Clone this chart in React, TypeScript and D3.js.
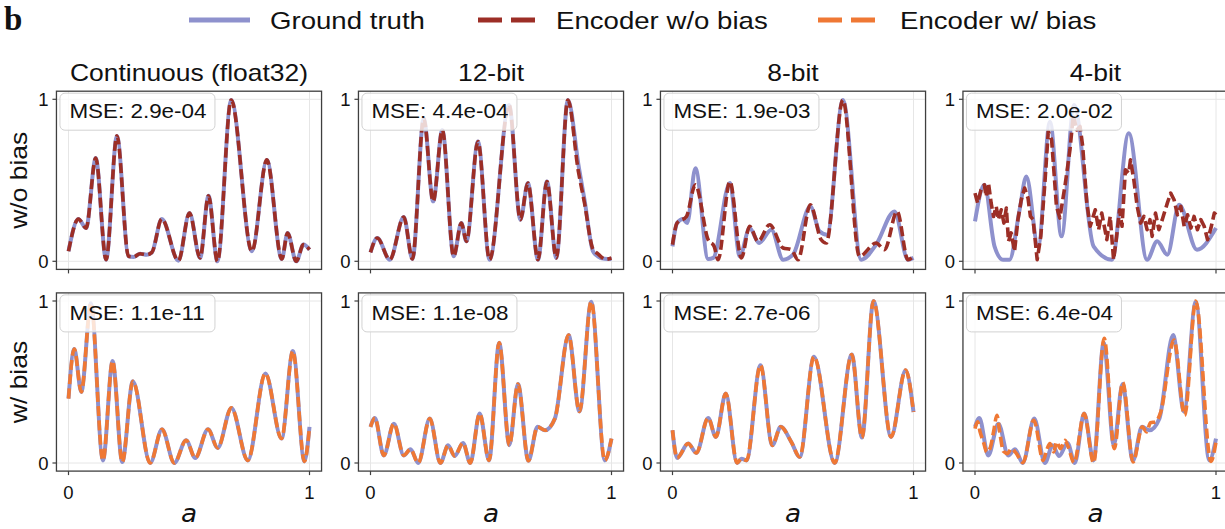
import React from 'react';
import * as d3 from 'd3';

type Pt = [number, number];

// ---------- data ----------
const columnTitles = ['Continuous (float32)', '12-bit', '8-bit', '4-bit'];
const rowLabels = ['w/o bias', 'w/ bias'];
const mseRow1 = ['2.9e-04', '4.4e-04', '1.9e-03', '2.0e-02'];
const mseRow2 = ['1.1e-11', '1.1e-08', '2.7e-06', '6.4e-04'];
const legendLabels = ['Ground truth', 'Encoder w/o bias', 'Encoder w/ bias'];
const tickValues = [0, 1];
const xLabel = 'a';
const panelLetter = 'b';

// Row 1 (w/o bias)
const gtR1C1: Pt[] = [
  [0, 0.062], [0.041, 0.261], [0.073, 0.205], [0.113, 0.637], [0.156, 0.01], [0.201, 0.774],
  [0.249, 0.031], [0.27, 0.027], [0.297, 0.047], [0.325, 0.041], [0.346, 0.055], [0.387, 0.261],
  [0.456, 0.004], [0.502, 0.298], [0.546, 0.021], [0.581, 0.405], [0.618, 0.0], [0.675, 0.996],
  [0.761, 0.062], [0.823, 0.626], [0.885, 0.014], [0.909, 0.175], [0.945, 0.0], [0.975, 0.103],
  [1.0, 0.072],
];
const encR1C1: Pt[] = gtR1C1;

const gtR1C2: Pt[] = [
  [0, 0.055], [0.028, 0.144], [0.08, 0.01], [0.138, 0.273], [0.174, 0.014], [0.221, 0.883],
  [0.26, 0.37], [0.298, 0.811], [0.345, 0.031], [0.377, 0.236], [0.398, 0.123], [0.446, 0.739],
  [0.494, 0.01], [0.575, 0.965], [0.622, 0.257], [0.653, 0.483], [0.695, 0.01], [0.732, 0.493],
  [0.771, 0.021], [0.819, 0.996], [0.865, 0.575], [0.888, 0.38], [0.923, 0.062], [0.943, 0.031],
  [0.971, 0.016], [1.0, 0.014],
];
const encR1C2: Pt[] = [
  [0, 0.055], [0.028, 0.144], [0.08, 0.01], [0.138, 0.273], [0.174, 0.014], [0.221, 0.883],
  [0.26, 0.37], [0.298, 0.811], [0.345, 0.031], [0.377, 0.236], [0.398, 0.123], [0.446, 0.739],
  [0.494, 0.01], [0.575, 0.965], [0.622, 0.257], [0.653, 0.483], [0.695, 0.01], [0.732, 0.493],
  [0.771, 0.021], [0.819, 0.996], [0.862, 0.56], [0.888, 0.36], [0.923, 0.075], [0.945, 0.045],
  [0.975, 0.012], [1.0, 0.02],
];

const gtR1C3: Pt[] = [
  [0, 0.092], [0.019, 0.236], [0.044, 0.261], [0.061, 0.236], [0.095, 0.575], [0.148, 0.014],
  [0.169, 0.021], [0.238, 0.483], [0.279, 0.031], [0.32, 0.205], [0.359, 0.113], [0.41, 0.195],
  [0.459, 0.01], [0.5, 0.041], [0.572, 0.339], [0.61, 0.185], [0.641, 0.164], [0.707, 0.996],
  [0.783, 0.01], [0.845, 0.103], [0.921, 0.308], [0.977, 0.01], [1.0, 0.021],
];
const encR1C3: Pt[] = [
  [0, 0.103], [0.019, 0.236], [0.058, 0.277], [0.095, 0.472], [0.148, 0.133], [0.173, 0.092],
  [0.189, 0.01], [0.238, 0.493], [0.286, 0.021], [0.32, 0.216], [0.355, 0.123], [0.403, 0.226],
  [0.459, 0.082], [0.493, 0.072], [0.521, 0.01], [0.572, 0.349], [0.617, 0.133], [0.638, 0.113],
  [0.707, 0.996], [0.776, 0.031], [0.845, 0.113], [0.88, 0.072], [0.932, 0.308], [0.977, 0.01],
  [1.0, 0.031],
];

const gtR1C4: Pt[] = [
  [0, 0.246], [0.039, 0.472], [0.081, 0.092], [0.116, 0.01], [0.143, 0.01], [0.185, 0.318],
  [0.213, 0.524], [0.262, 0.092], [0.311, 0.862], [0.359, 0.154], [0.411, 0.965], [0.492, 0.092],
  [0.568, 0.01], [0.638, 0.791], [0.714, 0.01], [0.756, 0.123], [0.798, 0.041], [0.847, 0.349],
  [0.921, 0.072], [1.0, 0.205],
];
const encR1C4: Pt[] = [
  [0, 0.421], [0.011, 0.359], [0.025, 0.441], [0.039, 0.472], [0.046, 0.4], [0.056, 0.483],
  [0.067, 0.359], [0.077, 0.277], [0.088, 0.339], [0.097, 0.257], [0.109, 0.318], [0.12, 0.236],
  [0.13, 0.329], [0.139, 0.123], [0.15, 0.175], [0.164, 0.062], [0.178, 0.257], [0.192, 0.38],
  [0.206, 0.452], [0.22, 0.39], [0.23, 0.277], [0.241, 0.257], [0.258, 0.01], [0.273, 0.154],
  [0.29, 0.483], [0.304, 0.801], [0.318, 0.749], [0.338, 0.339], [0.352, 0.267], [0.373, 0.462],
  [0.394, 0.688], [0.408, 0.903], [0.422, 0.811], [0.436, 0.832], [0.447, 0.708], [0.464, 0.359],
  [0.478, 0.216], [0.499, 0.318], [0.513, 0.195], [0.526, 0.298], [0.547, 0.133], [0.561, 0.277],
  [0.575, 0.01], [0.586, 0.133], [0.6, 0.318], [0.61, 0.216], [0.624, 0.565], [0.638, 0.544],
  [0.645, 0.626], [0.659, 0.503], [0.673, 0.339], [0.687, 0.236], [0.701, 0.277], [0.714, 0.195],
  [0.726, 0.257], [0.735, 0.154], [0.749, 0.298], [0.763, 0.195], [0.777, 0.257], [0.798, 0.359],
  [0.812, 0.421], [0.826, 0.38], [0.84, 0.287], [0.854, 0.339], [0.868, 0.216], [0.882, 0.287],
  [0.896, 0.205], [0.909, 0.277], [0.923, 0.195], [0.937, 0.257], [0.951, 0.216], [0.965, 0.133],
  [0.979, 0.205], [0.993, 0.298], [1.0, 0.287],
];

// Row 2 (w/ bias)
const gtR2C1: Pt[] = [
  [0, 0.398], [0.024, 0.703], [0.053, 0.439], [0.093, 0.986], [0.143, 0.016], [0.183, 0.629],
  [0.223, 0.006], [0.267, 0.505], [0.339, 0.0], [0.388, 0.208], [0.439, 0.0], [0.488, 0.14],
  [0.526, 0.031], [0.579, 0.208], [0.619, 0.093], [0.676, 0.34], [0.744, 0.016], [0.817, 0.553],
  [0.884, 0.151], [0.931, 0.691], [0.979, 0.01], [1.0, 0.223],
];
const encR2C1: Pt[] = gtR2C1;

const gtR2C2: Pt[] = [
  [0, 0.223], [0.018, 0.278], [0.055, 0.047], [0.097, 0.243], [0.138, 0.047], [0.166, 0.085],
  [0.198, 0.0], [0.246, 0.274], [0.29, 0.0], [0.322, 0.109], [0.349, 0.043], [0.384, 0.124],
  [0.414, 0.0], [0.453, 0.305], [0.492, 0.016], [0.534, 0.742], [0.576, 0.11], [0.612, 0.488],
  [0.655, 0.014], [0.693, 0.223], [0.724, 0.202], [0.765, 0.274], [0.822, 0.79], [0.867, 0.318],
  [0.916, 0.996], [0.972, 0.016], [1.0, 0.151],
];
const encR2C2: Pt[] = gtR2C2;

const gtR2C3: Pt[] = [
  [0, 0.202], [0.019, 0.031], [0.065, 0.12], [0.099, 0.062], [0.148, 0.278], [0.18, 0.161],
  [0.221, 0.429], [0.268, 0.0], [0.286, 0.027], [0.307, 0.016], [0.365, 0.604], [0.414, 0.109],
  [0.449, 0.223], [0.493, 0.13], [0.528, 0.037], [0.587, 0.656], [0.673, 0.0], [0.744, 0.67],
  [0.786, 0.157], [0.834, 1.0], [0.907, 0.161], [0.967, 0.573], [1.0, 0.315],
];
const encR2C3: Pt[] = gtR2C3;

const gtR2C4: Pt[] = gtR2C2;
const encR2C4: Pt[] = [
  [0, 0.212], [0.011, 0.254], [0.021, 0.192], [0.035, 0.13], [0.049, 0.068], [0.063, 0.093],
  [0.077, 0.192], [0.091, 0.295], [0.102, 0.196], [0.118, 0.072], [0.136, 0.058], [0.15, 0.089],
  [0.169, 0.064], [0.199, 0.002], [0.244, 0.264], [0.283, 0.016], [0.297, 0.078], [0.311, 0.12],
  [0.327, 0.068], [0.338, 0.13], [0.355, 0.089], [0.373, 0.14], [0.387, 0.099], [0.411, 0.002],
  [0.453, 0.305], [0.492, 0.002], [0.536, 0.769], [0.578, 0.089], [0.613, 0.497], [0.656, 0.006],
  [0.694, 0.223], [0.712, 0.192], [0.728, 0.249], [0.749, 0.254], [0.77, 0.311], [0.826, 0.759],
  [0.87, 0.295], [0.916, 1.0], [0.979, 0.01], [1.0, 0.13],
];

// ---------- styles / layout ----------
const GT_COLOR = '#8e91cd';
const RED = '#9c2e26';
const ORANGE = '#ef7834';
const FRAME = '#3f3f3f';
const GRID = '#e6e6e6';
const FONT = '"Liberation Sans", Arial, Helvetica, sans-serif';
const SX = 1.15;

const ZERO_X = [68.5, 370.5, 672.5, 975];
const SPAN_X = 241;
const ONE_Y = [99.3, 301];
const SPAN_Y = 162;

type Panel = { gt: Pt[]; enc: Pt[]; color: string; mse: string; jagged: boolean };

const panels: Panel[][] = [
  [
    { gt: gtR1C1, enc: encR1C1, color: RED, mse: mseRow1[0], jagged: false },
    { gt: gtR1C2, enc: encR1C2, color: RED, mse: mseRow1[1], jagged: false },
    { gt: gtR1C3, enc: encR1C3, color: RED, mse: mseRow1[2], jagged: false },
    { gt: gtR1C4, enc: encR1C4, color: RED, mse: mseRow1[3], jagged: true },
  ],
  [
    { gt: gtR2C1, enc: encR2C1, color: ORANGE, mse: mseRow2[0], jagged: false },
    { gt: gtR2C2, enc: encR2C2, color: ORANGE, mse: mseRow2[1], jagged: false },
    { gt: gtR2C3, enc: encR2C3, color: ORANGE, mse: mseRow2[2], jagged: false },
    { gt: gtR2C4, enc: encR2C4, color: ORANGE, mse: mseRow2[3], jagged: false },
  ],
];

function SText(props: {
  x: number; y: number; size: number; anchor?: string; rotate?: number; sx?: number;
  family?: string; italic?: boolean; weight?: string; children: React.ReactNode;
}) {
  const { x, y, size, anchor = 'start', rotate = 0, sx = SX, family = FONT, italic, weight } = props;
  return (
    <g transform={`translate(${x},${y}) rotate(${rotate}) scale(${sx},1)`}>
      <text
        x={0}
        y={0}
        fontSize={size}
        fontFamily={family}
        fontStyle={italic ? 'italic' : 'normal'}
        fontWeight={weight || 'normal'}
        textAnchor={anchor as any}
        fill="#111"
      >
        {props.children}
      </text>
    </g>
  );
}

function PanelView({ r, c, p }: { r: number; c: number; p: Panel }) {
  const x = d3.scaleLinear().domain([0, 1]).range([ZERO_X[c], ZERO_X[c] + SPAN_X]);
  const y = d3.scaleLinear().domain([0, 1]).range([ONE_Y[r] + SPAN_Y, ONE_Y[r]]);
  const [fx0, fx1] = [x(-0.05), x(1.05)];
  const [fy0, fy1] = [y(1.05), y(-0.05)];
  const smooth = d3.line<Pt>().x(d => x(d[0])).y(d => y(d[1])).curve(d3.curveMonotoneX);
  const encLine = d3
    .line<Pt>()
    .x(d => x(d[0]))
    .y(d => y(d[1]))
    .curve(p.jagged ? d3.curveLinear : d3.curveMonotoneX);
  const clipId = `clip-${r}-${c}`;
  return (
    <g>
      <defs>
        <clipPath id={clipId}>
          <rect x={fx0} y={fy0} width={fx1 - fx0} height={fy1 - fy0} />
        </clipPath>
      </defs>
      {tickValues.map(t => (
        <line key={'gx' + t} x1={x(t)} x2={x(t)} y1={fy0} y2={fy1} stroke={GRID} strokeWidth={1} />
      ))}
      {tickValues.map(t => (
        <line key={'gy' + t} x1={fx0} x2={fx1} y1={y(t)} y2={y(t)} stroke={GRID} strokeWidth={1} />
      ))}
      <g clipPath={`url(#${clipId})`}>
        <path d={smooth(p.gt) || ''} fill="none" stroke={GT_COLOR} strokeWidth={4} strokeLinejoin="round" />
        <path
          d={encLine(p.enc) || ''}
          fill="none"
          stroke={p.color}
          strokeWidth={3.6}
          strokeDasharray="10,4.3"
          strokeLinejoin="round"
        />
      </g>
      <rect x={fx0} y={fy0} width={fx1 - fx0} height={fy1 - fy0} fill="none" stroke={FRAME} strokeWidth={1.3} />
      {tickValues.map(t => (
        <g key={'ty' + t}>
          <line x1={fx0 - 4} x2={fx0} y1={y(t)} y2={y(t)} stroke={FRAME} strokeWidth={1.2} />
          <text x={fx0 - 8} y={y(t) + 6.5} fontSize={18.5} fontFamily={FONT} textAnchor="end" fill="#111">
            {t}
          </text>
        </g>
      ))}
      {r === 1 &&
        tickValues.map(t => (
          <g key={'tx' + t}>
            <line x1={x(t)} x2={x(t)} y1={fy1} y2={fy1 + 4} stroke={FRAME} strokeWidth={1.2} />
            <text x={x(t)} y={fy1 + 28} fontSize={18.5} fontFamily={FONT} textAnchor="middle" fill="#111">
              {t}
            </text>
          </g>
        ))}
      {r === 0 &&
        tickValues.map(t => (
          <line key={'tx0' + t} x1={x(t)} x2={x(t)} y1={fy1} y2={fy1 + 4} stroke={FRAME} strokeWidth={1.2} />
        ))}
      <rect
        x={fx0 + 3.5}
        y={fy0 + 2}
        width={155}
        height={37}
        rx={5}
        ry={5}
        fill="#fff"
        fillOpacity={0.8}
        stroke="#d2d2d2"
        strokeWidth={1}
      />
      <SText x={fx0 + 13} y={fy0 + 27} size={19.5}>
        {`MSE: ${p.mse}`}
      </SText>
      {r === 0 && (
        <SText x={(fx0 + fx1) / 2} y={81} size={23} anchor="middle">
          {columnTitles[c]}
        </SText>
      )}
      {r === 1 && (
        <SText
          x={x(0.5)}
          y={522}
          size={25}
          anchor="middle"
          sx={1.05}
          italic
          family={'"DejaVu Sans", sans-serif'}
        >
          {xLabel}
        </SText>
      )}
      {c === 0 && (
        <SText x={27} y={(fy0 + fy1) / 2} size={23} anchor="middle" rotate={-90}>
          {rowLabels[r]}
        </SText>
      )}
    </g>
  );
}

export default function App() {
  const legendItems = [
    { label: legendLabels[0], color: GT_COLOR, x1: 189, x2: 250, tx: 270, dash: undefined },
    { label: legendLabels[1], color: RED, x1: 478, x2: 535, tx: 556, dash: '24,9' },
    { label: legendLabels[2], color: ORANGE, x1: 818, x2: 875, tx: 900, dash: '24,9' },
  ];
  return (
    <svg
      width={1225}
      height={529}
      viewBox="0 0 1225 529"
      style={{ position: 'absolute', left: 0, top: 0, display: 'block', background: '#fff' }}
    >
      <rect x={0} y={0} width={1225} height={529} fill="#fff" />
      <text x={4} y={30} fontSize={33} fontWeight="bold" fontFamily='"Liberation Serif", "Times New Roman", serif' fill="#111">
        {panelLetter}
      </text>
      {legendItems.map(it => (
        <g key={it.label}>
          <line
            x1={it.x1}
            x2={it.x2}
            y1={20}
            y2={20}
            stroke={it.color}
            strokeWidth={5}
            strokeDasharray={it.dash}
          />
          <SText x={it.tx} y={28.5} size={24}>
            {it.label}
          </SText>
        </g>
      ))}
      {panels.map((row, r) => row.map((p, c) => <PanelView key={`${r}-${c}`} r={r} c={c} p={p} />))}
    </svg>
  );
}
